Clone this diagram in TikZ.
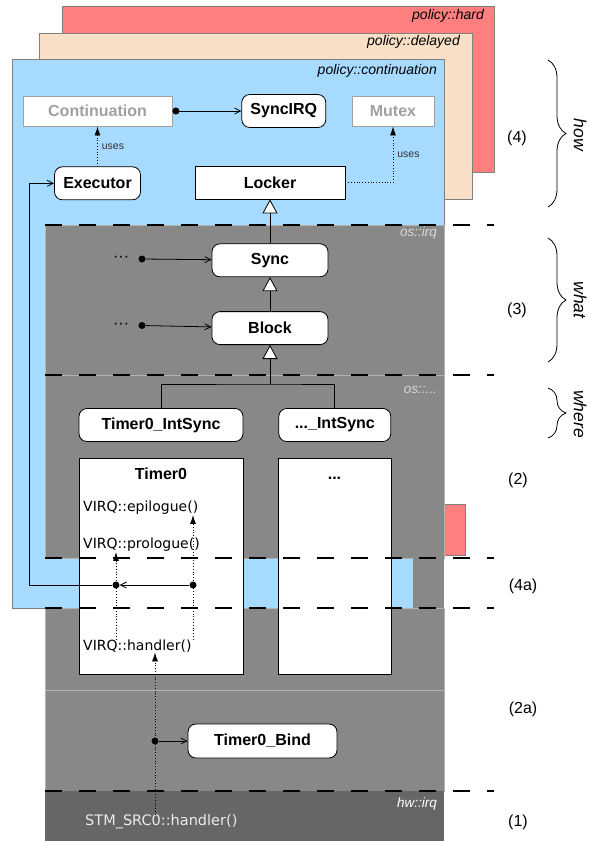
\documentclass[tikz,border=0pt]{standalone}
\usepackage{fontspec}
\setmainfont{Liberation Sans}
\newfontfamily\codefont{DejaVu Sans}
\usetikzlibrary{
    arrows.meta,
    positioning,
    decorations.pathreplacing
}
\definecolor{hardred}{HTML}{FF7F7F}
\definecolor{delayedpeach}{HTML}{F9DFC6}
\definecolor{contblue}{HTML}{A6DAFF}
\definecolor{osgrey}{HTML}{888888}
\definecolor{hwgrey}{HTML}{666666}
\definecolor{ghostgrey}{HTML}{A0A0A0}

\begin{document}
\begin{tikzpicture}[
    x=1pt,
    y=-1pt,
    node distance=34pt,
    >=Latex,
    layer/.style={draw=black!50, line width=0.7pt},
    osarea/.style={draw=black!30, line width=0.5pt, fill=osgrey},
    layername/.style={
        anchor=east,
        inner sep=0pt,
        font=\itshape\fontsize{14}{16}\selectfont
    },
    osname/.style={
        layername,
        text=white!85!black,
        font=\itshape\fontsize{13.5}{16}\selectfont
    },
    sep/.style={line width=2pt, dash pattern=on 17pt off 17pt},
    tiername/.style={font=\fontsize{16}{19}\selectfont},
    curly/.style={
        decorate,
        decoration={brace, amplitude=18pt},
        line width=0.8pt
    },
    braceword/.style={
        font=\itshape\fontsize{17.5}{21}\selectfont,
        rotate=-90,
        inner sep=1pt
    },
    cbox/.style={
        rectangle,
        draw,
        fill=white,
        line width=0.8pt,
        inner sep=0pt,
        minimum height=33pt,
        font=\bfseries\fontsize{16}{19}\selectfont
    },
    rbox/.style={cbox, rounded corners=8pt},
    ghost/.style={cbox, draw=ghostgrey, text=ghostgrey, minimum height=30pt},
    boldtext/.style={font=\bfseries\fontsize{16}{19}\selectfont, anchor=base},
    codetext/.style={
        anchor=west,
        inner sep=0pt,
        font=\codefont\fontsize{14}{17}\selectfont
    },
    dot/.style={circle, fill, inner sep=0pt, minimum size=7pt},
    more/.style={inner sep=0pt, font=\fontsize{16}{19}\selectfont},
    useslabel/.style={font=\fontsize{10.5}{12}\selectfont, text=black!80, inner sep=4pt},
    call/.style={line width=0.8pt, -{Straight Barb[length=6pt,width=6pt]}},
    callfrom/.style={line width=0.8pt, {Circle[length=7pt]}-{Straight Barb[length=6pt,width=6pt]}},
    uses/.style={line width=0.8pt, dotted, -{Latex[length=9pt,width=6pt]}},
    inherit/.style={line width=0.8pt, -{Triangle[length=14pt,width=15pt,fill=white]}}
]
\useasboundingbox (0,0) rectangle (591,841);

%--------------------------------------------------
% policy layers
\draw[layer, fill=hardred] (62,6) rectangle (494,172);
\draw[layer, fill=hardred] (444,504) rectangle (465,555);
\draw[layer, fill=delayedpeach] (39,33) rectangle (472,199);
\draw[layer, fill=contblue] (12,59) -- (444,59) -- (444,558) -- (413,558)
    -- (413,608) -- (12,608) -- cycle;

% os and hw layers
\draw[osarea] (45,225) rectangle (444,375);
\draw[osarea] (45,375) rectangle (444,558);
\fill[osgrey] (413.4,558) rectangle (444,608);
\draw[osarea] (45,608) rectangle (444,690);
\draw[osarea] (45,690) rectangle (444,791);
\fill[hwgrey] (45,791) rectangle (444,841);

\node[layername] (hardname) at (484,16) {policy::hard};
\node[layername] (delayedname) at (460,42) {policy::delayed};
\node[layername] (contname) at (437,71) {policy::continuation};
\node[osname] (irqname) at (437,233) {os::irq};
\node[osname] (osdotsname) at (437,390) {os::...};
\node[osname, text=white] (hwname) at (437,804) {hw::irq};

%--------------------------------------------------
\node[ghost, minimum width=149pt] (cont) at (97.5,111) {Continuation};
\node[rbox, minimum width=84pt, right=69pt of cont] (syncirq) {SyncIRQ};
\node[ghost, minimum width=82pt] (mutex) at (393,111) {Mutex};

\node[rbox, minimum width=86pt, below=40pt of cont] (executor) {Executor};
\node[cbox, minimum width=150pt] (locker) at (270,182.5) {Locker};

\node[rbox, minimum width=116pt, below=44pt of locker] (sync) {Sync};
\node[rbox, minimum width=116pt, below=of sync] (block) {Block};

\node[dot] (syncdot) at (142,259) {};
\node[more, left=9pt of syncdot] (syncmore) {···};
\node[dot] (blockdot) at (142,325.5) {};
\node[more, left=9pt of blockdot] (blockmore) {···};

\node[rbox, minimum width=164pt] (tsync) at (161,425) {Timer0\_IntSync};
\node[rbox, minimum width=112pt, right=35pt of tsync] (osync) {...\_IntSync};
\coordinate (fork) at (270,384);

% Timer0 and the others
\node[cbox, minimum width=164pt, minimum height=216pt, anchor=north] (timer0) at (161,458) {};
\node[cbox, minimum width=113pt, minimum height=216pt, anchor=north] (otimer) at (334.5,458) {};
\node[boldtext] (timer0name) at (161,479) {Timer0};
\node[boldtext] (otimername) at (334.5,479) {...};

\node[codetext] (epilogue) at (83,508) {VIRQ::epilogue()};
\node[codetext] (prologue) at (83,545) {VIRQ::prologue()};
\node[codetext] (handler) at (83,646) {VIRQ::handler()};

\node[dot] (prodot) at (116,585) {};
\node[dot] (epidot) at (193,585) {};
\coordinate (bend) at (29,585);

% binding
\node[rbox, minimum width=149pt, minimum height=34pt] (bind) at (262.5,741) {Timer0\_Bind};
\node[dot] (binddot) at (155,741) {};
\node[codetext, text=white!92!black, font=\codefont\fontsize{14.5}{17}\selectfont] (stm) at (85,822) {STM\_SRC0::handler()};

%--------------------------------------------------
\draw[callfrom] (cont) -- (syncirq);
\draw[uses] (executor) -- node[useslabel, right] {uses} (cont);
\draw[uses] (locker) -| node[useslabel, right, pos=0.75] {uses} (mutex);

\draw[inherit] (sync) -- (locker);
\draw[inherit] (block) -- (sync);
\draw[call] (syncdot) -- (sync);
\draw[call] (blockdot) -- (block);

\draw[line width=0.8pt] (tsync) |- (fork) -| (osync);
\draw[inherit] (fork) -- (block);

\draw[uses] (handler.north -| prodot) -- (prologue.south -| prodot);
\draw[uses] (handler.north -| epidot) -- (epilogue.south -| epidot);
\draw[call] (epidot) -- (prodot);
\draw[call] (prodot) -- (bend) |- (executor);

\draw[uses] (stm.north -| binddot) -- (handler.south -| binddot);
\draw[call] (binddot) -- (bind);

%--------------------------------------------------
% separators
\foreach \y in {225,375,558,608,791}
    \draw[sep] (45,\y) -- (494,\y);

\node[tiername] (t4) at (517,138) {(4)};
\node[tiername] (t3) at (517,310) {(3)};
\node[tiername] (t2) at (518,480) {(2)};
\node[tiername] (t4a) at (523,586) {(4a)};
\node[tiername] (t2a) at (523,709) {(2a)};
\node[tiername] (t1) at (518,822) {(1)};

\draw[curly] (548,60) -- (548,207);
\draw[curly] (548,238) -- (548,362);
\draw[curly] (548,388) -- (548,438);
\node[braceword] (how) at (580,135) {how};
\node[braceword] (what) at (580,300) {what};
\node[braceword] (where) at (580,414) {where};

\end{tikzpicture}
\end{document}
